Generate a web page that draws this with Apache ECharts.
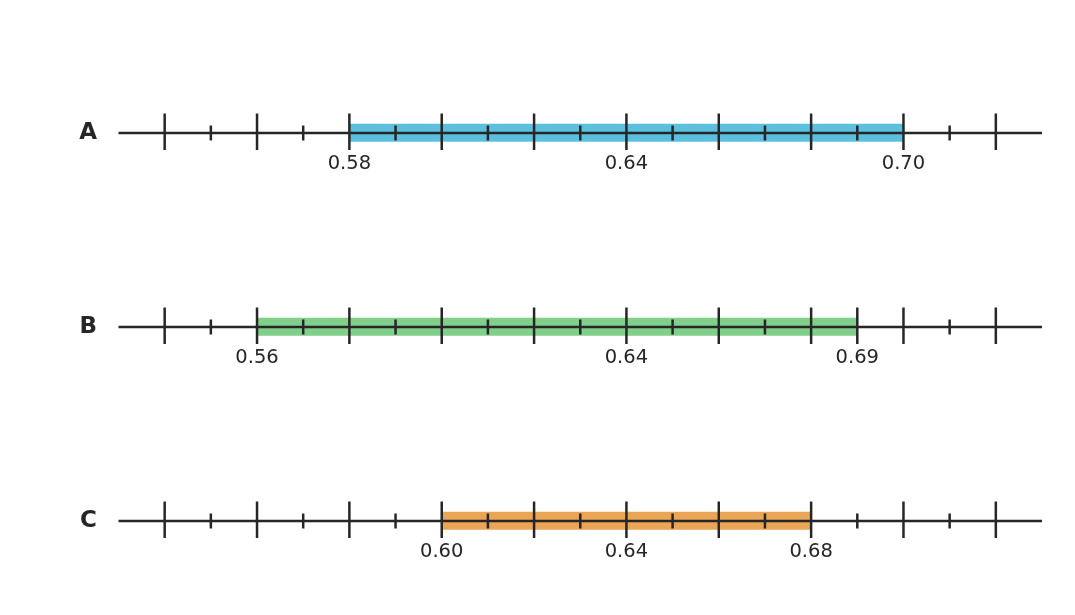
<!DOCTYPE html>
<html>
<head>
<meta charset="utf-8">
<script src="https://cdn.jsdelivr.net/npm/echarts@6/dist/echarts.min.js"></script>
<style>html,body{margin:0;padding:0;background:#fff}#c{width:1075px;height:615px}</style>
</head>
<body>
<div id="c"></div>
<script>
const categories = ['A', 'B', 'C'];
const lows = [0.58, 0.56, 0.60];
const highs = [0.70, 0.69, 0.68];
const bandColors = ['#5bc0de', '#80cf8a', '#eba556'];
const axisMin = 0.53;
const axisMax = 0.73;
const majorTicks = [0.54, 0.56, 0.58, 0.60, 0.62, 0.64, 0.66, 0.68, 0.70, 0.72];
const minorTicks = [0.55, 0.57, 0.59, 0.61, 0.63, 0.65, 0.67, 0.69, 0.71];
const rowLabels = [
  ['0.58', '0.64', '0.70'],
  ['0.56', '0.64', '0.69'],
  ['0.60', '0.64', '0.68']
];

const ink = '#262626';
const chart = echarts.init(document.getElementById('c'));

function renderItem(params, api) {
  const i = params.dataIndex;
  const row = api.value(1);
  const lo = api.value(0), hi = api.value(2);
  const pL = api.coord([axisMin, row]);
  const pR = api.coord([axisMax, row]);
  const y = pL[1];
  const b0 = api.coord([lo, row]);
  const b1 = api.coord([hi, row]);
  const children = [];
  children.push({type: 'rect', shape: {x: b0[0], y: y - 9.3, width: b1[0] - b0[0], height: 18},
    style: {fill: bandColors[i]}});
  children.push({type: 'line', shape: {x1: pL[0], y1: y, x2: pR[0], y2: y},
    style: {stroke: ink, lineWidth: 2.5}});
  const isEnd = v => Math.abs(v - lo) < 1e-9 || Math.abs(v - hi) < 1e-9;
  majorTicks.concat(minorTicks).forEach(v => {
    const major = majorTicks.indexOf(v) >= 0 || isEnd(v);
    const x = api.coord([v, row])[0];
    children.push({type: 'line',
      shape: major ? {x1: x, y1: y - 19.5, x2: x, y2: y + 17} : {x1: x, y1: y - 7.5, x2: x, y2: y + 7.5},
      style: {stroke: ink, lineWidth: 2.5}});
  });
  rowLabels[i].forEach(t => {
    const x = api.coord([parseFloat(t), row])[0];
    children.push({type: 'text', style: {text: t, x: x, y: y + 30.5, align: 'center', verticalAlign: 'middle',
      fill: ink, fontSize: 19.5, fontFamily: 'DejaVu Sans'}});
  });
  return {type: 'group', children: children};
}

chart.setOption({
  animation: false,
  grid: {left: 118.5, right: 33, top: 133, height: 388},
  xAxis: {type: 'value', min: axisMin, max: axisMax, show: false},
  yAxis: {type: 'category', data: categories, inverse: true, boundaryGap: false,
    axisLine: {show: false}, axisTick: {show: false}, splitLine: {show: false},
    axisLabel: {margin: 21.5, color: ink, fontSize: 23, fontWeight: 'bold', fontFamily: 'DejaVu Sans'}},
  series: [{
    type: 'custom',
    clip: false,
    encode: {x: [0, 2], y: 1},
    data: categories.map((c, i) => [lows[i], c, highs[i]]),
    renderItem: renderItem
  }]
});
</script>
</body>
</html>
